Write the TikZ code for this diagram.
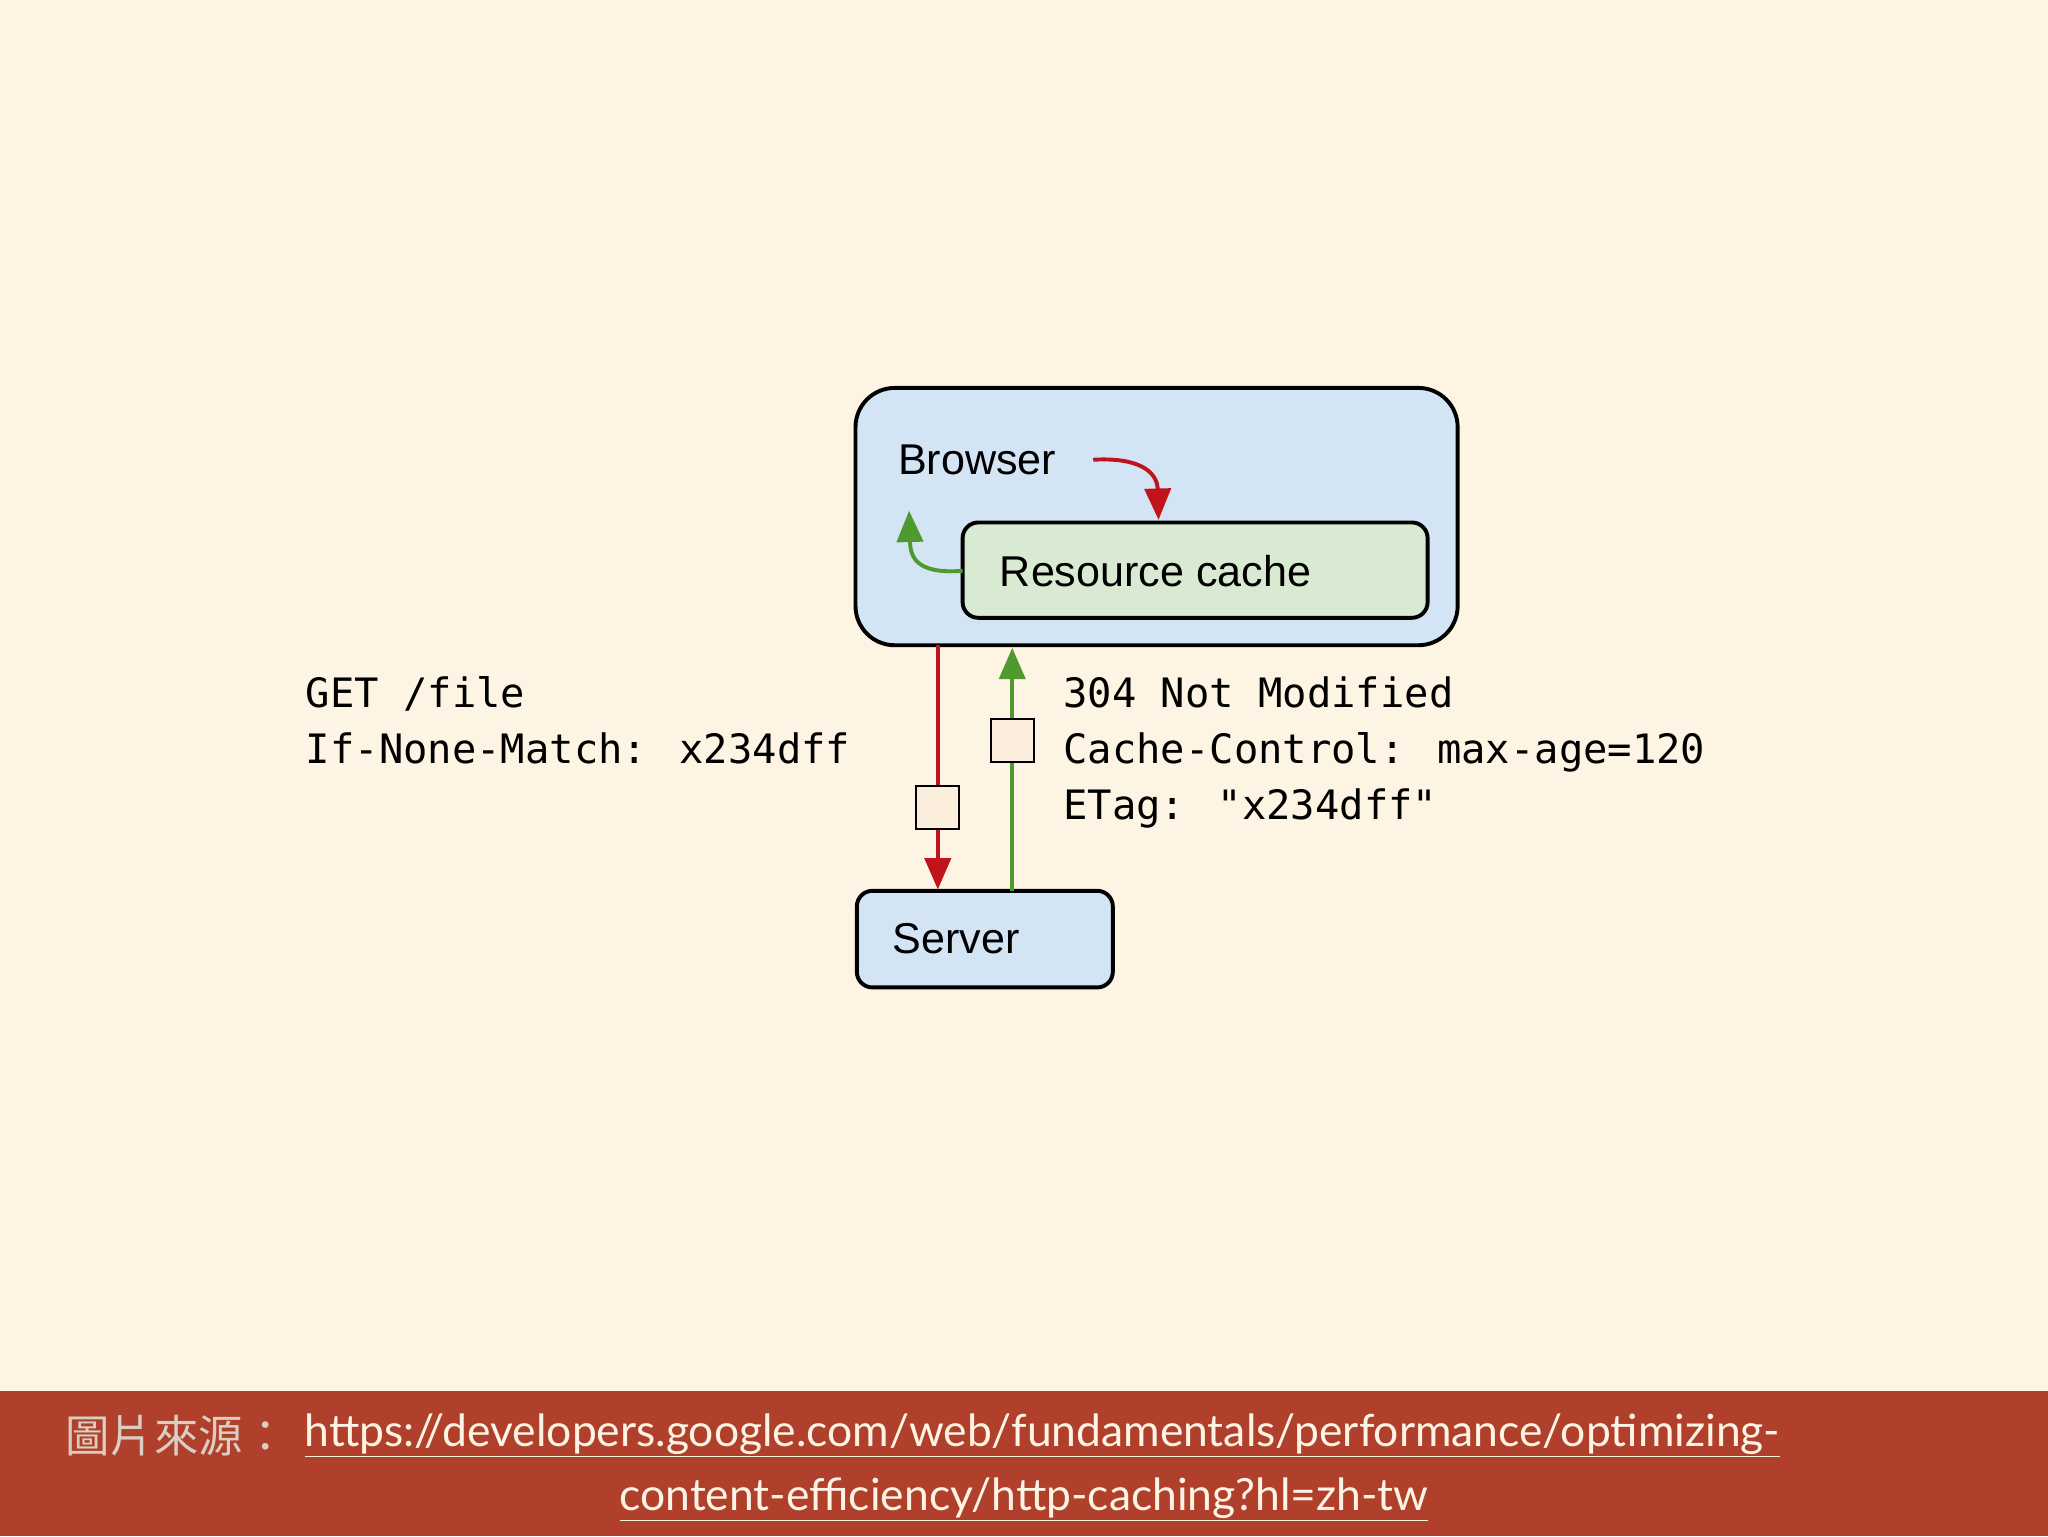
\documentclass[tikz,border=0pt]{standalone}
\usepackage{fontspec}
\setmainfont{Liberation Sans}
\newfontfamily\monof{DejaVu Sans Mono}
\newfontfamily\cjkf{Noto Sans CJK TC}
\newfontfamily\urlf{Lato}
\usetikzlibrary{arrows.meta}
\definecolor{bg}{HTML}{FEF4E4}
\definecolor{band}{HTML}{B0402C}
\definecolor{bblue}{HTML}{D3E4F5}
\definecolor{bgreen}{HTML}{D9EAD3}
\definecolor{ared}{HTML}{C0141C}
\definecolor{agreen}{HTML}{4E9A2E}
\definecolor{sq}{HTML}{FCEEDC}
\tikzset{box/.style={draw=black,line width=3pt,rounded corners=#1,inner sep=0pt},
lbl/.style={font=\fontsize{33}{40}\selectfont},
mono/.style={font=\monof\fontsize{31}{43}\selectfont,align=left,anchor=north west,inner sep=0pt},
sqr/.style={draw=black,line width=1.5pt,fill=sq,minimum size=33pt,inner sep=0pt},
ar/.style={line width=3pt,-{Triangle[length=24pt,width=20pt]}}}
\begin{document}
\begin{tikzpicture}[x=1pt,y=-1pt]
\fill[bg] (0,0) rectangle (1568,1176);
\useasboundingbox (0,0) rectangle (1568,1176);
\fill[band] (0,1065) rectangle (1568,1176);
\draw[box=30pt,fill=bblue] (655,297) rectangle (1116,494);
\coordinate (bb) at (885,494);
\draw[box=12pt,fill=bgreen] (737,400) rectangle (1093,473);
\node[lbl,anchor=west] (rc) at (762,437) {Resource cache};
\coordinate (rcl) at (737,437);
\coordinate (rct) at (887,398);
\node[lbl,anchor=west] (br) at (684,352) {Browser};
\draw[box=12pt,fill=bblue] (656,682) rectangle (852,756);
\node[lbl,anchor=west] (sv) at (680,719) {Server};
\coordinate (r1) at (718,494); \coordinate (r2) at (718,681);
\coordinate (g1) at (775,682); \coordinate (g2) at (775,496);
\draw[ar,ared] (r1) -- (r2);
\draw[ar,agreen] (g1) -- (g2);
\node[sqr] (s1) at (718,618) {};
\node[sqr] (s2) at (775,567) {};
\coordinate (c1) at (837,352);
\draw[ar,ared] (c1) .. controls (870,350) and (886,360) .. (rct);
\coordinate (c2) at (696,391);
\draw[ar,agreen] (rcl) .. controls (700,440) and (697,425) .. (c2);
\node[mono] (t1) at (234,518) {GET /file\\If-None-Match: x234dff};
\node[mono] (t2) at (814,518) {304 Not Modified\\Cache-Control: max-age=120\\ETag: "x234dff"};
\node[anchor=west,inner sep=0pt,text=bg!85!black] (src) at (50,1099) {\cjkf\fontsize{34}{40}\selectfont 圖片來源：};
\node[anchor=west,inner sep=0pt,text=bg] (u1) at (233,1099) {\urlf\fontsize{34}{40}\selectfont\underline{https://developers.google.com/web/fundamentals/performance/optimizing-}};
\node[inner sep=0pt,text=bg] (u2) at (784,1148) {\urlf\fontsize{34}{40}\selectfont\underline{content-efficiency/http-caching?hl=zh-tw}};
\end{tikzpicture}
\end{document}
